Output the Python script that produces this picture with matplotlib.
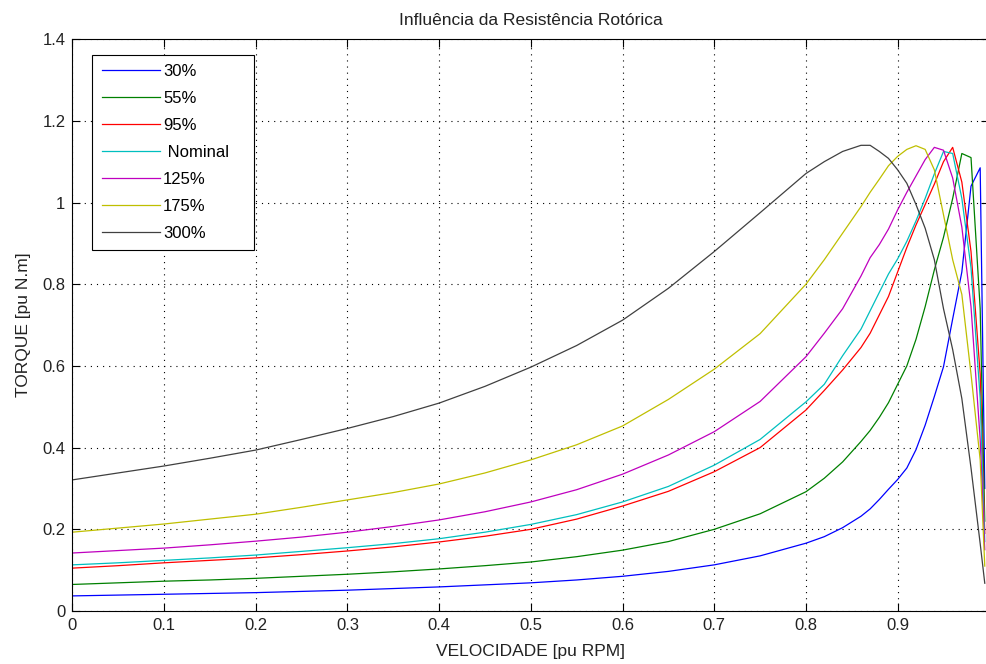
import matplotlib
matplotlib.use('Agg')
import matplotlib.pyplot as plt

plt.rcParams['font.family'] = ['Liberation Sans', 'DejaVu Sans']

# speed (pu) sample points
speed = [0, .05, .1, .15, .2, .25, .3, .35, .4, .45, .5, .55, .6, .65, .7, .75, .8,
         .82, .84, .86, .87, .88, .89, .90, .91, .92, .93, .94, .95, .96, .97, .98, .99, .995]

t_30 = [0.037, 0.039, 0.041, 0.043, 0.045, 0.048, 0.051, 0.055, 0.059, 0.064, 0.069, 0.076,
        0.085, 0.097, 0.113, 0.135, 0.166, 0.182, 0.204, 0.232, 0.25, 0.273, 0.298, 0.322,
        0.35, 0.395, 0.455, 0.525, 0.598, 0.715, 0.83, 1.04, 1.085, 0.30]
t_55 = [0.065, 0.069, 0.073, 0.076, 0.080, 0.085, 0.090, 0.096, 0.103, 0.111, 0.120, 0.133,
        0.149, 0.170, 0.200, 0.238, 0.292, 0.325, 0.365, 0.415, 0.442, 0.474, 0.51, 0.555,
        0.60, 0.665, 0.745, 0.835, 0.915, 1.01, 1.12, 1.11, 0.74, 0.22]
t_95 = [0.105, 0.111, 0.118, 0.124, 0.130, 0.138, 0.147, 0.157, 0.169, 0.183, 0.200, 0.225,
        0.257, 0.293, 0.341, 0.400, 0.492, 0.54, 0.59, 0.645, 0.68, 0.725, 0.77, 0.83,
        0.89, 0.945, 0.995, 1.045, 1.10, 1.135, 1.05, 0.88, 0.58, 0.19]
t_nom = [0.113, 0.118, 0.124, 0.130, 0.137, 0.146, 0.155, 0.165, 0.177, 0.193, 0.212, 0.236,
         0.267, 0.305, 0.357, 0.42, 0.512, 0.555, 0.625, 0.69, 0.735, 0.78, 0.825, 0.862,
         0.905, 0.955, 1.01, 1.07, 1.125, 1.12, 1.01, 0.84, 0.52, 0.17]
t_125 = [0.142, 0.148, 0.154, 0.162, 0.171, 0.181, 0.193, 0.207, 0.223, 0.243, 0.267, 0.297,
         0.335, 0.382, 0.439, 0.513, 0.6225, 0.68, 0.74, 0.82, 0.865, 0.897, 0.935, 0.982,
         1.025, 1.065, 1.105, 1.135, 1.128, 1.06, 0.94, 0.745, 0.42, 0.15]
t_175 = [0.193, 0.203, 0.213, 0.225, 0.237, 0.254, 0.272, 0.29, 0.311, 0.338, 0.37, 0.407,
         0.453, 0.518, 0.592, 0.679, 0.80, 0.86, 0.925, 0.99, 1.025, 1.057, 1.09, 1.113,
         1.13, 1.139, 1.13, 1.08, 0.97, 0.86, 0.775, 0.58, 0.37, 0.11]
t_300 = [0.321, 0.338, 0.355, 0.374, 0.394, 0.42, 0.447, 0.476, 0.509, 0.55, 0.597, 0.65,
         0.712, 0.79, 0.88, 0.975, 1.071, 1.10, 1.125, 1.14, 1.14, 1.125, 1.108, 1.08,
         1.047, 0.995, 0.937, 0.86, 0.74, 0.64, 0.52, 0.35, 0.165, 0.068]

labels = ['30%', '55%', '95%', ' Nominal', '125%', '175%', '300%']
colors = ['#0000ff', '#008000', '#ff0000', '#00bfbf', '#bf00bf', '#bfbf00', '#404040']
curves = [t_30, t_55, t_95, t_nom, t_125, t_175, t_300]

xticks = [0, 0.1, 0.2, 0.3, 0.4, 0.5, 0.6, 0.7, 0.8, 0.9]
xticklabels = ['0', '0.1', '0.2', '0.3', '0.4', '0.5', '0.6', '0.7', '0.8', '0.9']
yticks = [0, 0.2, 0.4, 0.6, 0.8, 1.0, 1.2, 1.4]
yticklabels = ['0', '0.2', '0.4', '0.6', '0.8', '1', '1.2', '1.4']

fig = plt.figure(figsize=(9.86, 6.64), dpi=100)
# axes run slightly past the right edge of the figure (x = 1 is cut off)
ax = fig.add_axes([0.0734, 0.0798, 0.9300, 0.8613])

for y, c, lab in zip(curves, colors, labels):
    ax.plot(speed, y, color=c, lw=0.9, label=lab)

ax.set_xlim(0, 1)
ax.set_ylim(0, 1.4)
ax.set_xticks(xticks)
ax.set_xticklabels(xticklabels)
ax.set_yticks(yticks)
ax.set_yticklabels(yticklabels)
ax.tick_params(direction='in', length=6, width=0.8, top=True, right=True,
               labelsize=12, pad=5, labelcolor='#222222')
ax.grid(True, color='k', linestyle=(0, (1, 4.5)), linewidth=0.8)
for s in ax.spines.values():
    s.set_linewidth(0.8)

ax.set_title('Influência da Resistência Rotórica', fontsize=12.5, pad=10, color='#222222')
ax.set_xlabel('VELOCIDADE [pu RPM]', fontsize=12.5, labelpad=8, color='#222222')
ax.set_ylabel('TORQUE [pu N.m]', fontsize=12.5, labelpad=8, color='#222222')

leg = ax.legend(loc='upper left', bbox_to_anchor=(0.0218, 0.972, 0.1767, 0.0),
                mode='expand', borderaxespad=0, fontsize=12, handlelength=3.5,
                handletextpad=0.2, labelspacing=0.72, borderpad=0.55,
                fancybox=False, framealpha=1, edgecolor='k')
leg.get_frame().set_linewidth(0.8)

fig.savefig('out.png', dpi=100)
